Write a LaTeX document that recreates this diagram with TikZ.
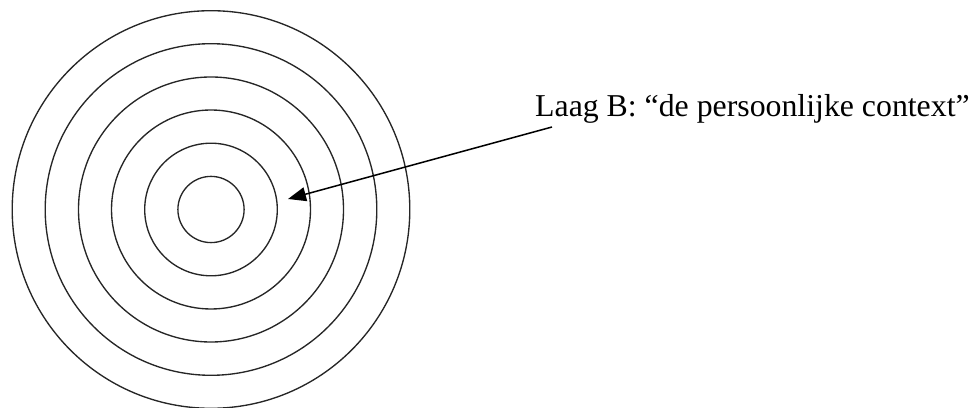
\documentclass[tikz,border=0pt]{standalone}
\usepackage{fontspec}
\setmainfont{Liberation Serif}
\usetikzlibrary{arrows.meta}
\begin{document}
\begin{tikzpicture}[x=1pt,y=1pt,
  ring/.style={circle,draw=black!85,line width=1.35pt,inner sep=0pt,outer sep=0pt},
  pointer/.style={draw=black,line width=1.5pt,-{Triangle[length=18pt,width=14pt]}},
  lbltext/.style={font=\fontsize{31.8}{38}\selectfont,inner sep=0pt,anchor=base west}]
\useasboundingbox (0,0) rectangle (974,407);
\node[ring,minimum size=66.2pt] (c1) at (211,197.5) {};
\node[ring,minimum size=132.6pt] (c2) at (211,197.5) {};
\node[ring,minimum size=199pt] (c3) at (211,197.5) {};
\node[ring,minimum size=265pt] (c4) at (211,197.5) {};
\node[ring,minimum size=331.6pt] (c5) at (211,197.5) {};
\node[ring,minimum size=397.6pt] (c6) at (211,197.5) {};
\node[lbltext] (lbl) at (535,290.3) {Laag B: “de persoonlijke context”};
\coordinate (tail) at (552,280);
\coordinate (tip) at (288,208);
\draw[pointer] (tail) -- (tip);
\end{tikzpicture}
\end{document}
